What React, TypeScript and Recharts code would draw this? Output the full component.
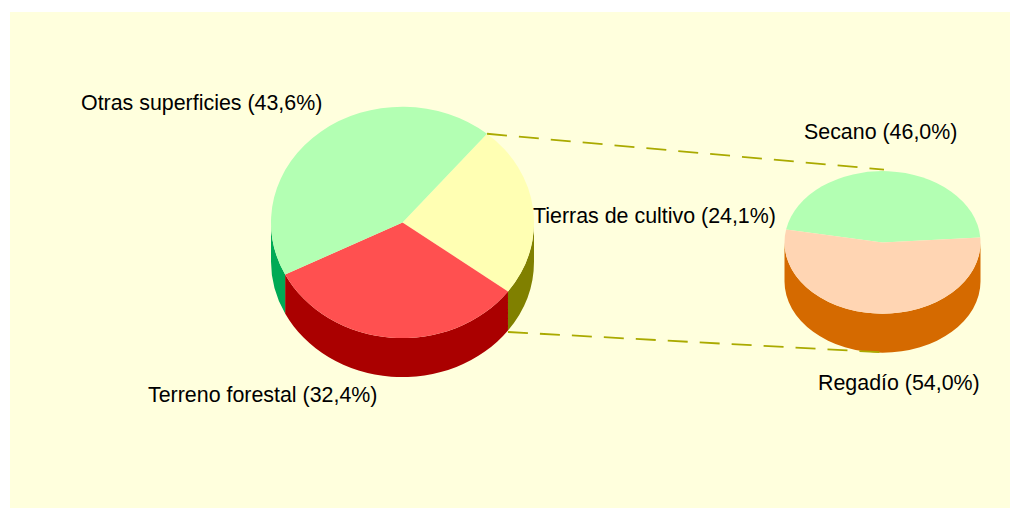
import React from "react";
import { PieChart, Pie, Cell } from "recharts";

const mainCategories = ["Tierras de cultivo", "Terreno forestal", "Otras superficies"];
const mainValues = [24.1, 32.4, 43.6];
const mainTopColors = ["#FFFFB3", "#FF5050", "#B3FFB3"];
const mainSideColors = ["#808000", "#AA0000", "#00AA55"];

const detailCategories = ["Secano", "Regadío"];
const detailValues = [46.0, 54.0];
const detailTopColors = ["#B3FFB3", "#FFD5B3"];
const detailSideColors = ["#008000", "#D56A00"];

const mainData = mainCategories.map((name, i) => ({ name, value: mainValues[i] }));
const detailData = detailCategories.map((name, i) => ({ name, value: detailValues[i] }));

const WIDTH = 1010;
const HEIGHT = 508;
const DEPTH = 39;
const MAIN = { cx: 402.5, cy: 222.4, rx: 131.5, ry: 115.7, start: 50 };
const DETAIL = { cx: 882.5, cy: 242.4, rx: 98, ry: 71.3, start: 169.6 };

const labelSpots: Record<string, [number, number]> = {
  "Otras superficies": [81, 110],
  "Tierras de cultivo": [533, 223],
  "Terreno forestal": [148, 402],
  Secano: [804, 139],
  "Regadío": [818, 390],
};

const FONT = "'Liberation Sans', Arial, sans-serif";
const RAD = Math.PI / 180;

function makeShape(names: string[], sides: string[], ratio: number) {
  return function EllipticSector(props: any) {
    const { cx, cy, outerRadius: rx, startAngle, endAngle, fill, name, payload } = props;
    const ry = rx * ratio;
    const lo = Math.min(startAngle, endAngle);
    const hi = Math.max(startAngle, endAngle);
    const px = (a: number) => cx + rx * Math.cos(a * RAD);
    const py = (a: number) => cy - ry * Math.sin(a * RAD);
    const large = hi - lo > 180 ? 1 : 0;
    const top = `M${cx},${cy}L${px(hi)},${py(hi)}A${rx},${ry} 0 ${large} 1 ${px(lo)},${py(lo)}Z`;

    const sidePaths: string[] = [];
    for (let k = -2; k <= 2; k++) {
      const a = Math.max(lo, 180 + 360 * k);
      const b = Math.min(hi, 360 + 360 * k);
      if (b > a) {
        sidePaths.push(
          `M${px(a)},${py(a)}A${rx},${ry} 0 0 0 ${px(b)},${py(b)}` +
            `L${px(b)},${py(b) + DEPTH}A${rx},${ry} 0 0 1 ${px(a)},${py(a) + DEPTH}Z`
        );
      }
    }
    const key = name ?? payload?.name;
    const sideColor = sides[names.indexOf(key)];
    return (
      <g>
        {sidePaths.map((d, i) => (
          <path key={i} d={d} fill={sideColor} />
        ))}
        <path d={top} fill={fill} />
      </g>
    );
  };
}

function Connectors() {
  const total = mainValues[0] + mainValues[1] + mainValues[2];
  const a = MAIN.start * RAD;
  const b = (MAIN.start - (mainValues[0] / total) * 360) * RAD;
  const x1 = MAIN.cx + MAIN.rx * Math.cos(a);
  const y1 = MAIN.cy - MAIN.ry * Math.sin(a);
  const x2 = MAIN.cx + MAIN.rx * Math.cos(b);
  const y2 = MAIN.cy - MAIN.ry * Math.sin(b) + DEPTH + 1.5;
  const common = { stroke: "#AAAA00", strokeWidth: 1.8, strokeDasharray: "20 12", fill: "none" };
  return (
    <g>
      <line x1={x1} y1={y1} x2={DETAIL.cx + 1.5} y2={DETAIL.cy - DETAIL.ry - 1.5} {...common} />
      <line x1={x2} y1={y2} x2={DETAIL.cx - 2} y2={DETAIL.cy + DETAIL.ry + DEPTH - 0.5} {...common} />
    </g>
  );
}

function renderLabel(props: any) {
  const name = props.name ?? props.payload?.name;
  const spot = labelSpots[name];
  if (!spot) return null;
  return (
    <g>
      {name === detailCategories[1] ? <Connectors /> : null}
      <text x={spot[0]} y={spot[1]} fontFamily={FONT} fontSize={21.4} fill="#000000" textAnchor="start" stroke="none">
        {`${name} (${Number(props.value).toFixed(1).replace(".", ",")}%)`}
      </text>
    </g>
  );
}

const mainShape = makeShape(mainCategories, mainSideColors, MAIN.ry / MAIN.rx);
const detailShape = makeShape(detailCategories, detailSideColors, DETAIL.ry / DETAIL.rx);

export default function App() {
  return (
    <div style={{ position: "absolute", left: 0, top: 0, width: WIDTH, height: HEIGHT, background: "#FFFFFF" }}>
      <div style={{ position: "absolute", left: 10, top: 12, width: WIDTH - 10, height: HEIGHT - 12, background: "#FFFFDD" }} />
      <div style={{ position: "absolute", left: 0, top: 0 }}>
        <PieChart width={WIDTH} height={HEIGHT} margin={{ top: 0, right: 0, bottom: 0, left: 0 }}>
          <Pie
            data={mainData}
            dataKey="value"
            nameKey="name"
            cx={MAIN.cx}
            cy={MAIN.cy}
            innerRadius={0}
            outerRadius={MAIN.rx}
            startAngle={MAIN.start}
            endAngle={MAIN.start - 360}
            stroke="none"
            shape={mainShape}
            label={renderLabel}
            labelLine={false}
            isAnimationActive={false}
          >
            {mainData.map((d, i) => (
              <Cell key={d.name} fill={mainTopColors[i]} />
            ))}
          </Pie>
          <Pie
            data={detailData}
            dataKey="value"
            nameKey="name"
            cx={DETAIL.cx}
            cy={DETAIL.cy}
            innerRadius={0}
            outerRadius={DETAIL.rx}
            startAngle={DETAIL.start}
            endAngle={DETAIL.start - 360}
            stroke="none"
            shape={detailShape}
            label={renderLabel}
            labelLine={false}
            isAnimationActive={false}
          >
            {detailData.map((d, i) => (
              <Cell key={d.name} fill={detailTopColors[i]} />
            ))}
          </Pie>
        </PieChart>
      </div>
    </div>
  );
}
